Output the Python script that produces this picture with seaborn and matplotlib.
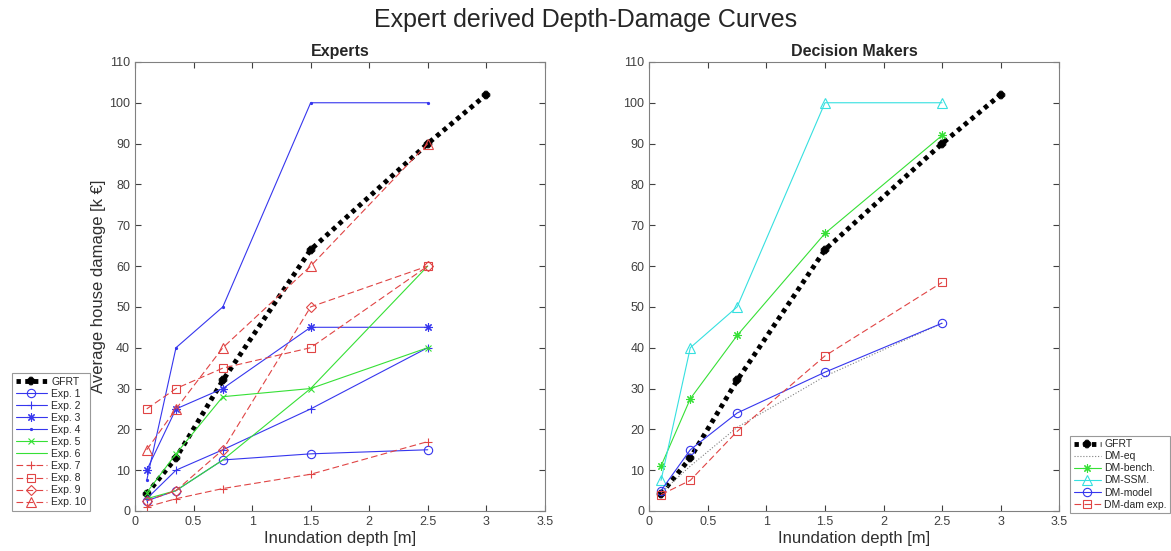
import matplotlib
matplotlib.use('Agg')
import matplotlib.pyplot as plt
import seaborn as sns

sns.set_style('white')
plt.rcParams['font.family'] = ['Liberation Sans', 'DejaVu Sans']

# ---- data ----
depth = [0.1, 0.35, 0.75, 1.5, 2.5]
gfrt_depth = [0.1, 0.35, 0.75, 1.5, 2.5, 3.0]
gfrt = [4.2, 13, 32, 64, 90, 102]

exp1 = [2.5, 5, 12.5, 14, 15]
exp2 = [3, 10, 15, 25, 40]
exp3 = [10, 25, 30, 45, 45]
exp4 = [7.5, 40, 50, 100, 100]
exp5 = [4.5, 14, 28, 30, 40]
exp6 = [3, 5, 12.5, 30, 60]
exp7 = [1, 3, 5.5, 9, 17]
exp8 = [25, 30, 35, 40, 60]
exp9 = [2.5, 5, 15, 50, 60]
exp10 = [15, 25, 40, 60, 90]

dm_eq = [4.5, 11, 20.5, 33, 46]
dm_bench = [11, 27.5, 43, 68, 92]
dm_ssm = [7.5, 40, 50, 100, 100]
dm_model = [5, 15, 24, 34, 46]
dm_dam = [4, 7.5, 19.5, 38, 56]

blue = '#3636ee'
green = '#36e036'
red = '#e04444'
cyan = '#36e0e0'
dash = (0, (6, 3))
aster = (8, 2, 0)

expert_series = [
    ('Exp. 1', exp1, blue, '-', 'o', 6, 'none'),
    ('Exp. 2', exp2, blue, '-', '+', 6, None),
    ('Exp. 3', exp3, blue, '-', aster, 6, None),
    ('Exp. 4', exp4, blue, '-', '.', 3, None),
    ('Exp. 5', exp5, green, '-', 'x', 4.5, None),
    ('Exp. 6', exp6, green, '-', None, 0, None),
    ('Exp. 7', exp7, red, dash, '+', 6, None),
    ('Exp. 8', exp8, red, dash, 's', 5.5, 'none'),
    ('Exp. 9', exp9, red, dash, 'D', 5.5, 'none'),
    ('Exp. 10', exp10, red, dash, '^', 6.5, 'none'),
]

dm_series = [
    ('DM-eq', dm_eq, '#808080', ':', None, 0, None),
    ('DM-bench.', dm_bench, green, '-', aster, 6, None),
    ('DM-SSM.', dm_ssm, cyan, '-', '^', 7, 'none'),
    ('DM-model', dm_model, blue, '-', 'o', 6, 'none'),
    ('DM-dam exp.', dm_dam, red, dash, 's', 5.5, 'none'),
]

fig = plt.figure(figsize=(11.71, 5.51), dpi=100)
ax1 = fig.add_axes([0.1153, 0.0726, 0.350, 0.815])
ax2 = fig.add_axes([0.5545, 0.0726, 0.350, 0.815])


def draw_gfrt(ax):
    sns.lineplot(x=gfrt_depth, y=gfrt, ax=ax, color='black', linestyle=(0, (0.9, 0.9)),
                 linewidth=3.5, marker='X', markersize=4, markeredgewidth=1.5,
                 markeredgecolor='black', markerfacecolor='black', label='GFRT')


def draw_series(ax, series):
    for name, vals, col, ls, mk, ms, mfc in series:
        kw = dict(color=col, linestyle=ls, linewidth=0.8, label=name)
        if mk is not None:
            kw.update(marker=mk, markersize=ms, markeredgecolor=col, markeredgewidth=0.8)
            kw['markerfacecolor'] = mfc if mfc is not None else col
        sns.lineplot(x=depth, y=vals, ax=ax, **kw)


draw_gfrt(ax1)
draw_series(ax1, expert_series)
draw_gfrt(ax2)
draw_series(ax2, dm_series)

for ax, title in [(ax1, 'Experts'), (ax2, 'Decision Makers')]:
    ax.set_xlim(0, 3.5)
    ax.set_ylim(0, 110)
    ax.set_xticks([0, 0.5, 1, 1.5, 2, 2.5, 3, 3.5])
    ax.set_xticklabels(['0', '0.5', '1', '1.5', '2', '2.5', '3', '3.5'])
    ax.set_yticks(range(0, 111, 10))
    ax.tick_params(direction='in', length=4, width=0.8, colors='#404040',
                   labelsize=9, top=True, right=True, bottom=True, left=True,
                   labelcolor='#404040')
    for s in ax.spines.values():
        s.set_color('#808080')
        s.set_linewidth(0.8)
    ax.set_title(title, fontsize=11.5, fontweight='bold', pad=4)
    ax.set_xlabel('Inundation depth [m]', fontsize=12, color='#303030', labelpad=2)

ax1.set_ylabel('Average house damage [k €]', fontsize=12, color='#303030', labelpad=2)
ax2.set_ylabel('')

leg_kw = dict(loc='lower left', fontsize=7.5, frameon=True, fancybox=False,
              borderpad=0.35, labelspacing=0.2, borderaxespad=0)
leg1 = ax1.legend(bbox_to_anchor=(-0.30, 0.0), handlelength=3.0, handletextpad=0.4, **leg_kw)
leg2 = ax2.legend(bbox_to_anchor=(1.027, -0.005), handlelength=2.6, handletextpad=0.3, **leg_kw)
for leg in (leg1, leg2):
    leg.get_frame().set_edgecolor('#808080')
    leg.get_frame().set_linewidth(0.8)

fig.suptitle('Expert derived Depth-Damage Curves', fontsize=18, color='#262626', y=0.985)

fig.savefig('out.png', dpi=100)
